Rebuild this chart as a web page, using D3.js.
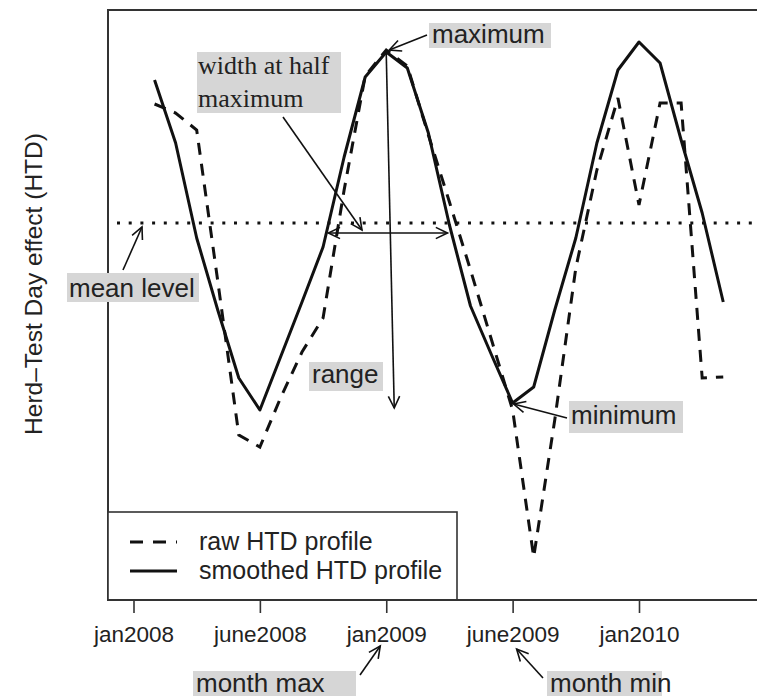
<!DOCTYPE html>
<html>
<head>
<meta charset="utf-8">
<script src="https://cdn.jsdelivr.net/npm/d3@7"></script>
<style>
  body { margin: 0; background: #fff; }
  text { font-family: "Liberation Sans", Arial, sans-serif; fill: #222; }
</style>
</head>
<body>
<script>
// canvas size
var w = 757;
var h = 696;

// data: test-day index (0 = jan2008) and HTD effect (arbitrary units, mean = 0)
var obsIndex = [1, 2, 3, 4, 5, 6, 7, 8, 9, 10, 11, 12, 13, 14,
                15, 16, 17, 18, 19, 20, 21, 22, 23, 24, 25, 26, 27, 28];
var rawHTD = [2.38, 2.20, 1.86, -1.16, -4.24, -4.48, -3.48, -2.58, -1.90, 0.66,
              2.94, 3.46, 3.14, 1.76, 0.42, -0.94, -2.34, -3.74, -6.68, -3.94,
              -0.90, 1.06, 2.50, 0.36, 2.40, 2.40, -3.10, -3.08];
var smoothHTD = [2.86, 1.60, -0.30, -1.74, -3.10, -3.74, -2.66, -1.58, -0.48, 1.32,
                 2.92, 3.42, 3.10, 1.80, -0.04, -1.66, -2.64, -3.60, -3.28, -1.74,
                 -0.30, 1.60, 3.06, 3.62, 3.20, 1.66, 0.20, -1.58];
var tickIndex = [0, 6, 12, 18, 24];
var tickLabels = ["jan2008", "june2008", "jan2009", "june2009", "jan2010"];
var meanLevel = 0;
var seriesNames = ["raw HTD profile", "smoothed HTD profile"];

// plot region
var plotLeft = 108, plotRight = 800, plotTop = 10, plotBottom = 600;

var xScale = d3.scaleLinear().domain([0, 24]).range([133.5, 639]);
var yScale = d3.scaleLinear().domain([-7.54, 4.26]).range([plotBottom, plotTop]);

var svg = d3.select("body").append("svg").attr("width", w).attr("height", h);

// open arrow head helper
function arrowHead(g, x1, y1, x2, y2, len) {
  var a = Math.atan2(y2 - y1, x2 - x1);
  var s = 0.45;
  var p1 = [x2 - len * Math.cos(a - s), y2 - len * Math.sin(a - s)];
  var p2 = [x2 - len * Math.cos(a + s), y2 - len * Math.sin(a + s)];
  g.append("path")
    .attr("d", "M" + p1 + "L" + [x2, y2] + "L" + p2)
    .attr("fill", "none").attr("stroke", "#111").attr("stroke-width", 1.6);
}
function arrow(g, x1, y1, x2, y2, both) {
  g.append("line")
    .attr("x1", x1).attr("y1", y1).attr("x2", x2).attr("y2", y2)
    .attr("stroke", "#111").attr("stroke-width", 1.6);
  arrowHead(g, x1, y1, x2, y2, 13);
  if (both) arrowHead(g, x2, y2, x1, y1, 13);
}

// frame
svg.append("rect")
  .attr("x", plotLeft).attr("y", plotTop)
  .attr("width", plotRight - plotLeft).attr("height", plotBottom - plotTop)
  .attr("fill", "none").attr("stroke", "#333").attr("stroke-width", 2);

// x axis
var xAxis = d3.axisBottom(xScale)
  .tickValues(tickIndex)
  .tickSize(13)
  .tickPadding(16)
  .tickFormat(function (d, i) { return tickLabels[i]; });
var gx = svg.append("g")
  .attr("transform", "translate(0," + plotBottom + ")")
  .call(xAxis);
gx.select(".domain").remove();
gx.selectAll(".tick line").attr("stroke", "#333").attr("stroke-width", 1.6);
gx.selectAll(".tick text")
  .attr("font-size", 22.5).attr("fill", "#222")
  .attr("font-family", "Liberation Sans, Arial, sans-serif")
  .attr("dy", null).attr("y", 42);

// y axis title
svg.append("text")
  .attr("transform", "translate(42,284) rotate(-90)")
  .attr("text-anchor", "middle")
  .attr("font-size", 24.5)
  .text("Herd\u2013Test Day effect (HTD)");

// mean level (dotted)
svg.append("line")
  .attr("x1", plotLeft + 9).attr("x2", plotRight)
  .attr("y1", yScale(meanLevel)).attr("y2", yScale(meanLevel))
  .attr("stroke", "#111").attr("stroke-width", 3)
  .attr("stroke-dasharray", "3,8.7");

// profiles
var line = function (vals) {
  return d3.line()
    .x(function (d, i) { return xScale(obsIndex[i]); })
    .y(function (d) { return yScale(d); })(vals);
};
svg.append("path")
  .attr("d", line(rawHTD))
  .attr("fill", "none").attr("stroke", "#111").attr("stroke-width", 3)
  .attr("stroke-dasharray", "12,9");
svg.append("path")
  .attr("d", line(smoothHTD))
  .attr("fill", "none").attr("stroke", "#111").attr("stroke-width", 3)
  .attr("stroke-linejoin", "round");

// key points of the smoothed profile
var iMax = 11, iMin = 17; // jan2009 peak, june2009 trough
var peakX = xScale(obsIndex[iMax]), peakY = yScale(smoothHTD[iMax]);
var minX = xScale(obsIndex[iMin]), minY = yScale(smoothHTD[iMin]);

// crossings of smoothed profile with a level, around the peak
var halfY = yScale(meanLevel) + 10;
var halfLevel = yScale.invert(halfY);
function crossing(from, to) {
  for (var i = from; i < to; i++) {
    var a = smoothHTD[i], b = smoothHTD[i + 1];
    if ((a - halfLevel) * (b - halfLevel) <= 0) {
      var t = (halfLevel - a) / (b - a);
      return xScale(obsIndex[i] + t * (obsIndex[i + 1] - obsIndex[i]));
    }
  }
}
var leftX = crossing(6, iMax);
var rightX = crossing(iMax, iMin);

var ann = svg.append("g");

// gray label boxes
function label(txt, tx, ty, box, serif, size) {
  ann.append("rect")
    .attr("x", box[0]).attr("y", box[1])
    .attr("width", box[2] - box[0]).attr("height", box[3] - box[1])
    .attr("fill", "#d6d6d6");
  var t = ann.append("text").attr("x", tx).attr("y", ty)
    .attr("font-size", size || 26);
  if (serif) t.style("font-family", "'Liberation Serif', 'Times New Roman', serif");
  t.text(txt);
}

// range arrow
arrow(ann, peakX, peakY + 2, peakX + 8, minY + 5, false);
// width at half maximum
arrow(ann, leftX + 2, halfY, rightX - 4, halfY, true);
arrow(ann, 283, 117, 362, halfY - 3, false);
// maximum / minimum
arrow(ann, 427, 35, peakX + 3, peakY - 2, false);
arrow(ann, 567, 418, minX + 1, minY + 1, false);
// mean level
arrow(ann, 123, 270, 142, yScale(meanLevel) + 4, false);
// month max / min
arrow(ann, 360, 675, xScale(tickIndex[2]) - 6, 646, false);
arrow(ann, 543, 678, xScale(tickIndex[3]) + 4, 649, false);

label("maximum", 432, 43, [429, 23, 551, 48]);
label("width at half", 198, 74, [197, 52, 341, 113], true);
ann.append("text").attr("x", 198).attr("y", 107).attr("font-size", 26)
  .style("font-family", "'Liberation Serif', 'Times New Roman', serif")
  .text("maximum");
label("range", 312, 383, [309, 362, 383, 391]);
label("mean level", 69, 297, [67, 273, 199, 302]);
label("minimum", 571, 424, [569, 401, 683, 433]);
label("month max", 196, 692, [193, 671, 356, 696]);
label("month min", 550, 692, [547, 671, 662, 696]);

// legend
var legend = svg.append("g");
legend.append("rect")
  .attr("x", plotLeft).attr("y", 512)
  .attr("width", 457 - plotLeft).attr("height", plotBottom - 512)
  .attr("fill", "#fff").attr("stroke", "#333").attr("stroke-width", 1.6);
seriesNames.forEach(function (name, i) {
  var ly = 542 + i * 29;
  legend.append("line")
    .attr("x1", 130).attr("x2", 177).attr("y1", ly).attr("y2", ly)
    .attr("stroke", "#111").attr("stroke-width", 3)
    .attr("stroke-dasharray", i === 0 ? "13,10" : null);
  legend.append("text")
    .attr("x", 199).attr("y", ly + 8)
    .attr("font-size", 25)
    .text(name);
});
// redraw plot bottom edge over legend
svg.append("line")
  .attr("x1", plotLeft).attr("x2", plotRight)
  .attr("y1", plotBottom).attr("y2", plotBottom)
  .attr("stroke", "#333").attr("stroke-width", 2);
</script>
</body>
</html>
